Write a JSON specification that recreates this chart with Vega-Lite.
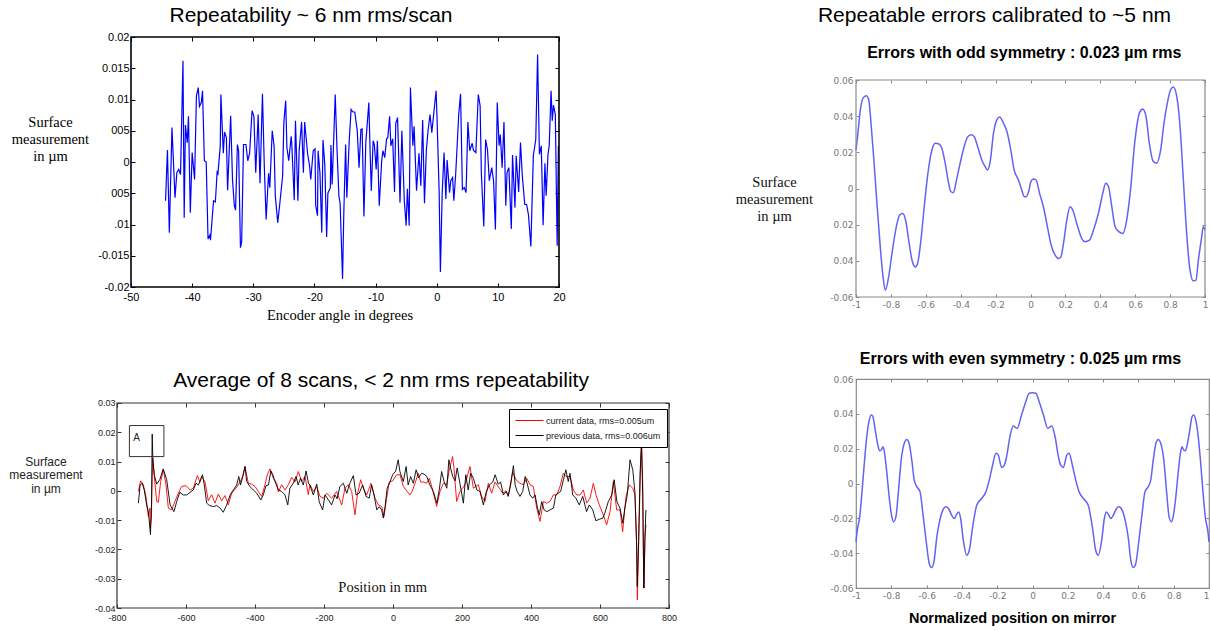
{
"$schema":"https://vega.github.io/schema/vega-lite/v6.json",
"padding":0,
"background":"white",
"autosize":{"type":"pad"},
"config":{
 "view":{"stroke":null},
 "font":"Liberation Sans",
 "axis":{"grid":false,"domain":false,"labelFlush":false,"labelOverlap":false,"labelBound":false},
 "title":{"font":"Liberation Sans","fontSize":21,"fontWeight":"normal","color":"#000","anchor":"middle","frame":"group"}
},
"datasets":{
"p1":[
{"angle":-44.35,"um":-0.0062},{"angle":-44.04,"um":0.0019},{"angle":-43.73,"um":-0.0113},{"angle":-43.3,"um":0.0055},{"angle":-42.8,"um":-0.0057},{"angle":-42.5,"um":-0.0017},{"angle":-42.2,"um":-0.0012},{"angle":-41.9,"um":-0.002},{"angle":-41.5,"um":0.0162},{"angle":-41.3,"um":-0.0089},{"angle":-41.1,"um":0.0059},{"angle":-40.8,"um":0.0031},{"angle":-40.6,"um":0.0073},{"angle":-40.3,"um":-0.0081},{"angle":-40.0,"um":0.0015},{"angle":-39.6,"um":-0.0028},{"angle":-39.3,"um":0.0106},{"angle":-39.0,"um":0.0119},{"angle":-38.8,"um":0.0089},{"angle":-38.5,"um":0.0095},{"angle":-38.3,"um":0.0114},{"angle":-38.0,"um":0.0002},{"angle":-37.7,"um":0},{"angle":-37.4,"um":-0.0123},{"angle":-37.1,"um":-0.0117},{"angle":-37.0,"um":-0.0125},{"angle":-36.5,"um":-0.0062},{"angle":-36.2,"um":-0.0064},{"angle":-35.9,"um":-0.0014},{"angle":-35.8,"um":-0.0021},{"angle":-35.4,"um":0.0026},{"angle":-35.3,"um":0.0108},{"angle":-34.9,"um":0.0014},{"angle":-34.7,"um":0.0048},{"angle":-34.4,"um":0.0039},{"angle":-34.2,"um":-0.0045},{"angle":-33.7,"um":0.0074},{"angle":-33.4,"um":-0.0028},{"angle":-33.1,"um":-0.007},{"angle":-32.9,"um":-0.0077},{"angle":-32.6,"um":0.0028},{"angle":-32.4,"um":0.0018},{"angle":-32.1,"um":-0.0137},{"angle":-31.9,"um":-0.0128},{"angle":-31.6,"um":0.0028},{"angle":-31.2,"um":0.0028},{"angle":-30.9,"um":0.0002},{"angle":-30.6,"um":0.0014},{"angle":-30.2,"um":0.0082},{"angle":-29.9,"um":0.0073},{"angle":-29.6,"um":-0.0017},{"angle":-29.2,"um":0.0076},{"angle":-28.9,"um":-0.0034},{"angle":-28.5,"um":0.0109},{"angle":-28.2,"um":-0.0006},{"angle":-27.9,"um":-0.0092},{"angle":-27.5,"um":-0.0018},{"angle":-27.3,"um":-0.0041},{"angle":-26.9,"um":0.005},{"angle":-26.6,"um":0.0026},{"angle":-26.4,"um":-0.0054},{"angle":-26.0,"um":-0.0097},{"angle":-25.7,"um":-0.007},{"angle":-25.2,"um":-0.0022},{"angle":-25.0,"um":0.0063},{"angle":-24.7,"um":0.0098},{"angle":-24.5,"um":0.0023},{"angle":-24.2,"um":0.0002},{"angle":-23.8,"um":0.0041},{"angle":-23.7,"um":0.0028},{"angle":-23.3,"um":-0.0061},{"angle":-23.1,"um":0.0066},{"angle":-22.7,"um":-0.0062},{"angle":-22.5,"um":0.0018},{"angle":-22.1,"um":0.0064},{"angle":-21.8,"um":-0.0017},{"angle":-21.6,"um":0.0064},{"angle":-21.1,"um":0.0012},{"angle":-20.8,"um":-0.0006},{"angle":-20.6,"um":-0.0028},{"angle":-20.2,"um":0.0018},{"angle":-19.9,"um":0.0021},{"angle":-19.8,"um":-0.0069},{"angle":-19.5,"um":-0.0086},{"angle":-19.4,"um":0.0018},{"angle":-19.1,"um":-0.0017},{"angle":-18.8,"um":-0.0113},{"angle":-18.6,"um":0.0035},{"angle":-18.3,"um":-0.0005},{"angle":-18.0,"um":-0.012},{"angle":-17.8,"um":-0.005},{"angle":-17.4,"um":-0.0041},{"angle":-17.3,"um":0.0027},{"angle":-17.1,"um":-0.0036},{"angle":-16.6,"um":0.0108},{"angle":-16.3,"um":0.0019},{"angle":-16.0,"um":-0.0054},{"angle":-15.8,"um":-0.0066},{"angle":-15.4,"um":-0.0187},{"angle":-15.2,"um":-0.0084},{"angle":-14.9,"um":0.0028},{"angle":-14.7,"um":-0.0057},{"angle":-14.3,"um":0.0036},{"angle":-14.0,"um":0.0084},{"angle":-13.7,"um":0.008},{"angle":-13.4,"um":0.008},{"angle":-13.0,"um":0.005},{"angle":-12.7,"um":-0.0009},{"angle":-12.4,"um":0.0052},{"angle":-12.2,"um":0.0053},{"angle":-11.9,"um":-0.0087},{"angle":-11.6,"um":0.0031},{"angle":-11.1,"um":0.0095},{"angle":-10.9,"um":0.0019},{"angle":-10.7,"um":-0.0046},{"angle":-10.4,"um":0.0034},{"angle":-10.2,"um":0.0028},{"angle":-9.9,"um":-0.0012},{"angle":-9.7,"um":0.0034},{"angle":-9.4,"um":-0.007},{"angle":-9.0,"um":0.0002},{"angle":-8.8,"um":0.0018},{"angle":-8.5,"um":0.0007},{"angle":-8.2,"um":0.0037},{"angle":-8.0,"um":0.0039},{"angle":-7.7,"um":0.0073},{"angle":-7.5,"um":0.0026},{"angle":-7.2,"um":0.0037},{"angle":-6.9,"um":-0.0048},{"angle":-6.7,"um":0.0062},{"angle":-6.4,"um":0.0071},{"angle":-6.0,"um":-0.0065},{"angle":-5.7,"um":0.005},{"angle":-5.3,"um":-0.0062},{"angle":-5.0,"um":-0.0102},{"angle":-4.8,"um":-0.0043},{"angle":-4.5,"um":-0.0102},{"angle":-4.3,"um":0.0119},{"angle":-3.9,"um":0.0026},{"angle":-3.7,"um":0.0057},{"angle":-3.3,"um":-0.0046},{"angle":-2.9,"um":0.0014},{"angle":-2.6,"um":-0.0038},{"angle":-2.3,"um":0.0067},{"angle":-2.0,"um":-0.0066},{"angle":-1.7,"um":0.0018},{"angle":-1.4,"um":0.0052},{"angle":-1.1,"um":0.0076},{"angle":-0.8,"um":0.0047},{"angle":-0.5,"um":0.0076},{"angle":-0.1,"um":0.0114},{"angle":0.05,"um":0.0071},{"angle":0.4,"um":-0.0049},{"angle":0.6,"um":-0.0176},{"angle":0.9,"um":-0.0049},{"angle":1.2,"um":0.0015},{"angle":1.5,"um":-0.0059},{"angle":1.7,"um":0.0003},{"angle":2.1,"um":-0.0049},{"angle":2.3,"um":-0.003},{"angle":2.6,"um":-0.0025},{"angle":2.8,"um":-0.0062},{"angle":3.1,"um":-0.002},{"angle":3.6,"um":0.0076},{"angle":3.9,"um":0.0109},{"angle":4.2,"um":-0.0044},{"angle":4.5,"um":-0.0041},{"angle":4.8,"um":-0.0049},{"angle":5.1,"um":0.0064},{"angle":5.4,"um":0.0018},{"angle":5.8,"um":0.003},{"angle":6.0,"um":0.0019},{"angle":6.4,"um":0.0015},{"angle":6.8,"um":0.0108},{"angle":7.1,"um":0.009},{"angle":7.3,"um":-0.0018},{"angle":7.7,"um":-0.0103},{"angle":8.0,"um":0.0036},{"angle":8.3,"um":0.002},{"angle":8.6,"um":-0.003},{"angle":9.0,"um":-0.0009},{"angle":9.3,"um":-0.003},{"angle":9.6,"um":-0.0108},{"angle":9.9,"um":0.0095},{"angle":10.2,"um":0.0026},{"angle":10.4,"um":0.0044},{"angle":10.7,"um":-0.0009},{"angle":11.0,"um":0.0064},{"angle":11.3,"um":-0.007},{"angle":11.5,"um":-0.0017},{"angle":11.8,"um":-0.0009},{"angle":12.2,"um":-0.0107},{"angle":12.4,"um":0.0011},{"angle":12.8,"um":-0.0073},{"angle":13.0,"um":0.001},{"angle":13.4,"um":-0.0048},{"angle":13.7,"um":0.0031},{"angle":14.0,"um":-0.0022},{"angle":14.4,"um":-0.0068},{"angle":14.7,"um":-0.0068},{"angle":15.0,"um":-0.0084},{"angle":15.4,"um":-0.0135},{"angle":15.8,"um":0.001},{"angle":16.2,"um":0.0036},{"angle":16.5,"um":0.0172},{"angle":16.8,"um":0.0012},{"angle":17.1,"um":0.0026},{"angle":17.4,"um":-0.0101},{"angle":17.7,"um":-0.0002},{"angle":17.9,"um":-0.0054},{"angle":18.2,"um":0.0012},{"angle":18.4,"um":0.0026},{"angle":18.7,"um":0.0114},{"angle":18.9,"um":0.0066},{"angle":19.1,"um":0.0091},{"angle":19.4,"um":0.0076},{"angle":19.7,"um":-0.0134},{"angle":19.9,"um":0.0026}
],
"p2":[
{"mm":-738.2,"um":-0.0002,"s":"cur"},{"mm":-731.4,"um":0.0034,"s":"cur"},{"mm":-723.7,"um":0.0021,"s":"cur"},{"mm":-716,"um":-0.0019,"s":"cur"},{"mm":-709.2,"um":-0.0087,"s":"cur"},{"mm":-704.4,"um":-0.0059,"s":"cur"},{"mm":-703.4,"um":-0.0127,"s":"cur"},{"mm":-700.5,"um":-0.0093,"s":"cur"},{"mm":-696.6,"um":0.0111,"s":"cur"},{"mm":-691.8,"um":0.0049,"s":"cur"},{"mm":-685,"um":-0.0036,"s":"cur"},{"mm":-680.2,"um":-0.0039,"s":"cur"},{"mm":-673.4,"um":0.0032,"s":"cur"},{"mm":-665.7,"um":0.0072,"s":"cur"},{"mm":-658,"um":0.0021,"s":"cur"},{"mm":-651.2,"um":-0.0059,"s":"cur"},{"mm":-641.6,"um":-0.0065,"s":"cur"},{"mm":-631.9,"um":-0.0036,"s":"cur"},{"mm":-622.2,"um":-0.0008,"s":"cur"},{"mm":-612.6,"um":0.0015,"s":"cur"},{"mm":-600,"um":0.0018,"s":"cur"},{"mm":-588.4,"um":0.0003,"s":"cur"},{"mm":-578.7,"um":0.0009,"s":"cur"},{"mm":-567.1,"um":0.0052,"s":"cur"},{"mm":-559.4,"um":0.003,"s":"cur"},{"mm":-554.6,"um":0.0049,"s":"cur"},{"mm":-544.9,"um":0.003,"s":"cur"},{"mm":-535.3,"um":-0.0034,"s":"cur"},{"mm":-525.6,"um":-0.0013,"s":"cur"},{"mm":-515.9,"um":-0.0042,"s":"cur"},{"mm":-506.3,"um":-0.0011,"s":"cur"},{"mm":-496.6,"um":-0.0034,"s":"cur"},{"mm":-487,"um":-0.0016,"s":"cur"},{"mm":-477.3,"um":-0.0048,"s":"cur"},{"mm":-467.6,"um":-0.0008,"s":"cur"},{"mm":-455.1,"um":0.0009,"s":"cur"},{"mm":-443.5,"um":0.003,"s":"cur"},{"mm":-435.8,"um":0.0049,"s":"cur"},{"mm":-429,"um":0.0083,"s":"cur"},{"mm":-419.3,"um":0.0026,"s":"cur"},{"mm":-409.7,"um":0.0023,"s":"cur"},{"mm":-400,"um":0.0015,"s":"cur"},{"mm":-390.3,"um":-0.0002,"s":"cur"},{"mm":-380.7,"um":-0.0019,"s":"cur"},{"mm":-371,"um":0.0021,"s":"cur"},{"mm":-364.3,"um":0.0055,"s":"cur"},{"mm":-356.5,"um":0.0075,"s":"cur"},{"mm":-346.9,"um":0.0043,"s":"cur"},{"mm":-337.2,"um":0.0026,"s":"cur"},{"mm":-332.4,"um":-0.0004,"s":"cur"},{"mm":-322.7,"um":0.0021,"s":"cur"},{"mm":-313,"um":0.0003,"s":"cur"},{"mm":-303.4,"um":0.0021,"s":"cur"},{"mm":-293.7,"um":0.0046,"s":"cur"},{"mm":-284.1,"um":0.003,"s":"cur"},{"mm":-274.4,"um":0.0066,"s":"cur"},{"mm":-264.7,"um":0.0032,"s":"cur"},{"mm":-255.1,"um":0.0049,"s":"cur"},{"mm":-245.4,"um":-0.0013,"s":"cur"},{"mm":-240.6,"um":0.0021,"s":"cur"},{"mm":-230.9,"um":-0.0002,"s":"cur"},{"mm":-221.3,"um":0.0015,"s":"cur"},{"mm":-211.6,"um":-0.0019,"s":"cur"},{"mm":-201.9,"um":-0.0025,"s":"cur"},{"mm":-192.3,"um":-0.0008,"s":"cur"},{"mm":-177.8,"um":-0.0025,"s":"cur"},{"mm":-163.3,"um":-0.0002,"s":"cur"},{"mm":-148.8,"um":-0.0048,"s":"cur"},{"mm":-139.1,"um":0.0009,"s":"cur"},{"mm":-129.5,"um":0.0021,"s":"cur"},{"mm":-119.8,"um":-0.0002,"s":"cur"},{"mm":-110.1,"um":-0.0082,"s":"cur"},{"mm":-103.4,"um":-0.0014,"s":"cur"},{"mm":-93.7,"um":0.0038,"s":"cur"},{"mm":-84.1,"um":0.0003,"s":"cur"},{"mm":-76.3,"um":-0.0014,"s":"cur"},{"mm":-63.8,"um":0.0026,"s":"cur"},{"mm":-52.2,"um":-0.0025,"s":"cur"},{"mm":-42.5,"um":-0.0048,"s":"cur"},{"mm":-32.8,"um":-0.0053,"s":"cur"},{"mm":-26.1,"um":-0.0087,"s":"cur"},{"mm":-18.4,"um":-0.0025,"s":"cur"},{"mm":-10.6,"um":0.003,"s":"cur"},{"mm":-1,"um":0.0034,"s":"cur"},{"mm":10.6,"um":0.0055,"s":"cur"},{"mm":20.3,"um":0.0055,"s":"cur"},{"mm":29.9,"um":0.0015,"s":"cur"},{"mm":37.7,"um":0.0003,"s":"cur"},{"mm":49.3,"um":-0.0014,"s":"cur"},{"mm":57,"um":0.0003,"s":"cur"},{"mm":63.8,"um":0.0026,"s":"cur"},{"mm":73.4,"um":0.006,"s":"cur"},{"mm":80.2,"um":0.003,"s":"cur"},{"mm":87.9,"um":0.003,"s":"cur"},{"mm":97.6,"um":0.0026,"s":"cur"},{"mm":105.3,"um":0.0043,"s":"cur"},{"mm":112.1,"um":0.0015,"s":"cur"},{"mm":126.6,"um":-0.0053,"s":"cur"},{"mm":136.2,"um":-0.0002,"s":"cur"},{"mm":145.9,"um":0.0026,"s":"cur"},{"mm":155.6,"um":0.0021,"s":"cur"},{"mm":163.3,"um":0.0072,"s":"cur"},{"mm":172.9,"um":0.0117,"s":"cur"},{"mm":176.8,"um":0.0077,"s":"cur"},{"mm":184.5,"um":-0.0036,"s":"cur"},{"mm":194.2,"um":-0.0002,"s":"cur"},{"mm":208.7,"um":0.0021,"s":"cur"},{"mm":223.2,"um":0.0083,"s":"cur"},{"mm":232.9,"um":0.0009,"s":"cur"},{"mm":247.3,"um":0.0021,"s":"cur"},{"mm":257,"um":-0.0019,"s":"cur"},{"mm":266.7,"um":-0.0036,"s":"cur"},{"mm":276.3,"um":0.0026,"s":"cur"},{"mm":286,"um":-0.0008,"s":"cur"},{"mm":295.7,"um":0.003,"s":"cur"},{"mm":308.2,"um":0.0009,"s":"cur"},{"mm":317.9,"um":-0.0008,"s":"cur"},{"mm":327.6,"um":0,"s":"cur"},{"mm":334.3,"um":-0.0014,"s":"cur"},{"mm":346.9,"um":0.0064,"s":"cur"},{"mm":356.5,"um":0.0038,"s":"cur"},{"mm":368.1,"um":0.0026,"s":"cur"},{"mm":377.8,"um":0.0021,"s":"cur"},{"mm":387.5,"um":0.0043,"s":"cur"},{"mm":397.1,"um":0.0021,"s":"cur"},{"mm":406.8,"um":0.0015,"s":"cur"},{"mm":416.5,"um":-0.0059,"s":"cur"},{"mm":426.1,"um":-0.0104,"s":"cur"},{"mm":435.8,"um":-0.0036,"s":"cur"},{"mm":445.4,"um":-0.0042,"s":"cur"},{"mm":455.1,"um":-0.0036,"s":"cur"},{"mm":464.8,"um":-0.0014,"s":"cur"},{"mm":474.4,"um":-0.0014,"s":"cur"},{"mm":484.1,"um":0.0015,"s":"cur"},{"mm":493.7,"um":0.006,"s":"cur"},{"mm":501.5,"um":0.0049,"s":"cur"},{"mm":513.1,"um":0.0049,"s":"cur"},{"mm":522.7,"um":0.0003,"s":"cur"},{"mm":532.4,"um":-0.0014,"s":"cur"},{"mm":542,"um":-0.0014,"s":"cur"},{"mm":551.7,"um":0.0003,"s":"cur"},{"mm":561.4,"um":-0.0042,"s":"cur"},{"mm":571,"um":-0.0025,"s":"cur"},{"mm":580.7,"um":0.0026,"s":"cur"},{"mm":588.4,"um":-0.0014,"s":"cur"},{"mm":598.1,"um":-0.0048,"s":"cur"},{"mm":609.7,"um":-0.0082,"s":"cur"},{"mm":619.3,"um":-0.0116,"s":"cur"},{"mm":629,"um":-0.0071,"s":"cur"},{"mm":638.7,"um":0.0032,"s":"cur"},{"mm":648.3,"um":-0.0065,"s":"cur"},{"mm":658,"um":-0.0065,"s":"cur"},{"mm":665.7,"um":-0.0139,"s":"cur"},{"mm":675.4,"um":-0.0019,"s":"cur"},{"mm":685,"um":0.0021,"s":"cur"},{"mm":694.7,"um":0.0009,"s":"cur"},{"mm":701.5,"um":-0.0014,"s":"cur"},{"mm":706.3,"um":-0.0196,"s":"cur"},{"mm":708.2,"um":-0.0372,"s":"cur"},{"mm":712.1,"um":-0.0173,"s":"cur"},{"mm":717.9,"um":0.01,"s":"cur"},{"mm":720.8,"um":0.0169,"s":"cur"},{"mm":723.7,"um":0.0032,"s":"cur"},{"mm":725.6,"um":-0.0207,"s":"cur"},{"mm":727.6,"um":-0.0332,"s":"cur"},{"mm":730.5,"um":-0.015,"s":"cur"},{"mm":733.4,"um":-0.0116,"s":"cur"},
{"mm":-738,"um":-0.0042,"s":"prev"},{"mm":-733,"um":0.002,"s":"prev"},{"mm":-727,"um":0.0026,"s":"prev"},{"mm":-721,"um":0.0003,"s":"prev"},{"mm":-714,"um":-0.0048,"s":"prev"},{"mm":-709,"um":-0.0071,"s":"prev"},{"mm":-706,"um":-0.011,"s":"prev"},{"mm":-703,"um":-0.015,"s":"prev"},{"mm":-700,"um":-0.0048,"s":"prev"},{"mm":-698,"um":0.0194,"s":"prev"},{"mm":-696,"um":0.0106,"s":"prev"},{"mm":-692,"um":0.0055,"s":"prev"},{"mm":-685,"um":0.0023,"s":"prev"},{"mm":-676,"um":0.0038,"s":"prev"},{"mm":-666,"um":0.0075,"s":"prev"},{"mm":-656,"um":0.0038,"s":"prev"},{"mm":-646,"um":-0.0048,"s":"prev"},{"mm":-635,"um":-0.0071,"s":"prev"},{"mm":-627,"um":-0.0037,"s":"prev"},{"mm":-618,"um":-0.0005,"s":"prev"},{"mm":-608,"um":-0.0014,"s":"prev"},{"mm":-598,"um":-0.0014,"s":"prev"},{"mm":-588,"um":-0.0005,"s":"prev"},{"mm":-579,"um":0.0003,"s":"prev"},{"mm":-571,"um":0.0026,"s":"prev"},{"mm":-564,"um":0.002,"s":"prev"},{"mm":-558,"um":0.0038,"s":"prev"},{"mm":-552,"um":0.0055,"s":"prev"},{"mm":-547,"um":0.002,"s":"prev"},{"mm":-540,"um":-0.0042,"s":"prev"},{"mm":-532,"um":-0.005,"s":"prev"},{"mm":-521,"um":-0.0054,"s":"prev"},{"mm":-511,"um":-0.005,"s":"prev"},{"mm":-501,"um":-0.0059,"s":"prev"},{"mm":-492,"um":-0.0073,"s":"prev"},{"mm":-482,"um":-0.0048,"s":"prev"},{"mm":-472,"um":-0.0014,"s":"prev"},{"mm":-463,"um":0.0003,"s":"prev"},{"mm":-453,"um":0.002,"s":"prev"},{"mm":-447,"um":0.0049,"s":"prev"},{"mm":-442,"um":0.002,"s":"prev"},{"mm":-434,"um":0.0055,"s":"prev"},{"mm":-429,"um":0.0083,"s":"prev"},{"mm":-424,"um":0.0032,"s":"prev"},{"mm":-415,"um":0.0015,"s":"prev"},{"mm":-405,"um":0.0003,"s":"prev"},{"mm":-395,"um":-0.0008,"s":"prev"},{"mm":-383,"um":-0.0031,"s":"prev"},{"mm":-376,"um":-0.0014,"s":"prev"},{"mm":-368,"um":0.0018,"s":"prev"},{"mm":-361,"um":0.002,"s":"prev"},{"mm":-354,"um":0.0068,"s":"prev"},{"mm":-349,"um":0.0057,"s":"prev"},{"mm":-342,"um":0.0032,"s":"prev"},{"mm":-332,"um":0.0003,"s":"prev"},{"mm":-323,"um":-0.0002,"s":"prev"},{"mm":-313,"um":-0.0014,"s":"prev"},{"mm":-305,"um":-0.0048,"s":"prev"},{"mm":-299,"um":0.0009,"s":"prev"},{"mm":-289,"um":0.0026,"s":"prev"},{"mm":-281,"um":0.0049,"s":"prev"},{"mm":-275,"um":0.002,"s":"prev"},{"mm":-268,"um":0.0043,"s":"prev"},{"mm":-260,"um":0.002,"s":"prev"},{"mm":-252,"um":0.0068,"s":"prev"},{"mm":-245,"um":0.0026,"s":"prev"},{"mm":-241,"um":0.002,"s":"prev"},{"mm":-231,"um":-0.0014,"s":"prev"},{"mm":-221,"um":0.0023,"s":"prev"},{"mm":-214,"um":-0.0037,"s":"prev"},{"mm":-204,"um":-0.0065,"s":"prev"},{"mm":-197,"um":-0.0014,"s":"prev"},{"mm":-187,"um":-0.0031,"s":"prev"},{"mm":-178,"um":-0.0048,"s":"prev"},{"mm":-168,"um":-0.0014,"s":"prev"},{"mm":-162,"um":-0.0027,"s":"prev"},{"mm":-154,"um":0.0015,"s":"prev"},{"mm":-144,"um":0.0026,"s":"prev"},{"mm":-134,"um":-0.0008,"s":"prev"},{"mm":-125,"um":0.0026,"s":"prev"},{"mm":-115,"um":0.0052,"s":"prev"},{"mm":-107,"um":-0.0014,"s":"prev"},{"mm":-98,"um":-0.0008,"s":"prev"},{"mm":-88,"um":0.002,"s":"prev"},{"mm":-78,"um":-0.0019,"s":"prev"},{"mm":-69,"um":-0.0025,"s":"prev"},{"mm":-62,"um":0.002,"s":"prev"},{"mm":-55,"um":-0.0014,"s":"prev"},{"mm":-47,"um":-0.0065,"s":"prev"},{"mm":-40,"um":-0.0054,"s":"prev"},{"mm":-33,"um":-0.0065,"s":"prev"},{"mm":-28,"um":-0.0093,"s":"prev"},{"mm":-23,"um":-0.0054,"s":"prev"},{"mm":-17,"um":0.0009,"s":"prev"},{"mm":-9,"um":0.003,"s":"prev"},{"mm":-1,"um":0.0055,"s":"prev"},{"mm":8,"um":0.0068,"s":"prev"},{"mm":15,"um":0.0106,"s":"prev"},{"mm":20,"um":0.0066,"s":"prev"},{"mm":30,"um":0.0032,"s":"prev"},{"mm":38,"um":0.0083,"s":"prev"},{"mm":44,"um":0.002,"s":"prev"},{"mm":51,"um":0.0049,"s":"prev"},{"mm":59,"um":0.0026,"s":"prev"},{"mm":67,"um":0.0072,"s":"prev"},{"mm":74,"um":0.0045,"s":"prev"},{"mm":83,"um":0.006,"s":"prev"},{"mm":90,"um":0.0057,"s":"prev"},{"mm":98,"um":0.0049,"s":"prev"},{"mm":107,"um":0.002,"s":"prev"},{"mm":117,"um":-0.0002,"s":"prev"},{"mm":127,"um":-0.0042,"s":"prev"},{"mm":134,"um":0.0003,"s":"prev"},{"mm":141,"um":0.0066,"s":"prev"},{"mm":148,"um":0.0032,"s":"prev"},{"mm":156,"um":0.0009,"s":"prev"},{"mm":162,"um":0.0106,"s":"prev"},{"mm":167,"um":0.0078,"s":"prev"},{"mm":173,"um":0.0049,"s":"prev"},{"mm":180,"um":0.0034,"s":"prev"},{"mm":186,"um":0.0078,"s":"prev"},{"mm":194,"um":0.0026,"s":"prev"},{"mm":204,"um":-0.0042,"s":"prev"},{"mm":211,"um":0.0055,"s":"prev"},{"mm":218,"um":0.0003,"s":"prev"},{"mm":225,"um":0.006,"s":"prev"},{"mm":233,"um":0.0043,"s":"prev"},{"mm":243,"um":0.0003,"s":"prev"},{"mm":252,"um":-0.0002,"s":"prev"},{"mm":262,"um":-0.0048,"s":"prev"},{"mm":269,"um":-0.0008,"s":"prev"},{"mm":279,"um":0.002,"s":"prev"},{"mm":289,"um":0.003,"s":"prev"},{"mm":296,"um":0.0055,"s":"prev"},{"mm":305,"um":0.0023,"s":"prev"},{"mm":312,"um":0.003,"s":"prev"},{"mm":320,"um":-0.0014,"s":"prev"},{"mm":328,"um":-0.0002,"s":"prev"},{"mm":334,"um":-0.0019,"s":"prev"},{"mm":341,"um":0.002,"s":"prev"},{"mm":349,"um":0.0086,"s":"prev"},{"mm":354,"um":0.002,"s":"prev"},{"mm":360,"um":-0.0002,"s":"prev"},{"mm":368,"um":-0.0019,"s":"prev"},{"mm":376,"um":-0.0002,"s":"prev"},{"mm":383,"um":0.0049,"s":"prev"},{"mm":390,"um":0.002,"s":"prev"},{"mm":397,"um":-0.0014,"s":"prev"},{"mm":405,"um":-0.0025,"s":"prev"},{"mm":412,"um":-0.0014,"s":"prev"},{"mm":417,"um":-0.0048,"s":"prev"},{"mm":424,"um":-0.0082,"s":"prev"},{"mm":431,"um":-0.0037,"s":"prev"},{"mm":438,"um":-0.0065,"s":"prev"},{"mm":446,"um":-0.0071,"s":"prev"},{"mm":455,"um":-0.0065,"s":"prev"},{"mm":465,"um":-0.0059,"s":"prev"},{"mm":472,"um":-0.0014,"s":"prev"},{"mm":479,"um":-0.0008,"s":"prev"},{"mm":486,"um":-0.0002,"s":"prev"},{"mm":494,"um":0.0038,"s":"prev"},{"mm":501,"um":0.0072,"s":"prev"},{"mm":508,"um":0.0032,"s":"prev"},{"mm":513,"um":0.006,"s":"prev"},{"mm":521,"um":-0.0014,"s":"prev"},{"mm":530,"um":-0.0025,"s":"prev"},{"mm":540,"um":-0.0048,"s":"prev"},{"mm":550,"um":-0.0019,"s":"prev"},{"mm":561,"um":-0.0071,"s":"prev"},{"mm":569,"um":-0.0048,"s":"prev"},{"mm":579,"um":-0.0065,"s":"prev"},{"mm":588,"um":-0.0102,"s":"prev"},{"mm":598,"um":-0.0097,"s":"prev"},{"mm":608,"um":-0.0093,"s":"prev"},{"mm":614,"um":-0.0076,"s":"prev"},{"mm":624,"um":-0.0037,"s":"prev"},{"mm":634,"um":-0.0014,"s":"prev"},{"mm":641,"um":0.0038,"s":"prev"},{"mm":649,"um":-0.0037,"s":"prev"},{"mm":658,"um":-0.0059,"s":"prev"},{"mm":666,"um":-0.011,"s":"prev"},{"mm":672,"um":-0.0059,"s":"prev"},{"mm":679,"um":-0.0014,"s":"prev"},{"mm":687,"um":0.0106,"s":"prev"},{"mm":695,"um":0.0072,"s":"prev"},{"mm":701,"um":-0.0002,"s":"prev"},{"mm":706,"um":-0.0173,"s":"prev"},{"mm":708,"um":-0.0327,"s":"prev"},{"mm":712,"um":-0.0173,"s":"prev"},{"mm":716,"um":0.0055,"s":"prev"},{"mm":720,"um":0.0157,"s":"prev"},{"mm":724,"um":-0.0014,"s":"prev"},{"mm":727,"um":-0.0332,"s":"prev"},{"mm":730,"um":-0.0173,"s":"prev"},{"mm":733,"um":-0.0065,"s":"prev"}
],
"notes":[{"label":"A","mm":-743,"um":0.018},{"label":"Position in mm","mm":-30,"um":-0.033}],
"box":[{"mm":-764,"mm2":-664,"um":0.0223,"um2":0.0117}],
"frame2":[{"mm":-800,"mm2":800,"um":-0.04,"um2":0.03}],
"frame1":[{"angle":-50,"angle2":20,"um":-0.02,"um2":0.02}],
"frame3":[{"pos":-1,"pos2":1,"um":-0.06,"um2":0.06}],
"head3":[{"label":"Errors with odd symmetry : 0.023 µm rms","pos":-0.0355,"um":0.0748}],
"p3":[
{"pos":-1,"um":0.0213},{"pos":-0.99,"um":0.0297},{"pos":-0.975,"um":0.0435},{"pos":-0.96,"um":0.05},{"pos":-0.941,"um":0.0513},{"pos":-0.927,"um":0.0491},{"pos":-0.914,"um":0.0361},{"pos":-0.899,"um":0.0177},{"pos":-0.88,"um":-0.0082},{"pos":-0.861,"um":-0.0323},{"pos":-0.845,"um":-0.0489},{"pos":-0.832,"um":-0.0563},{"pos":-0.813,"um":-0.0489},{"pos":-0.794,"um":-0.036},{"pos":-0.769,"um":-0.0212},{"pos":-0.75,"um":-0.0147},{"pos":-0.731,"um":-0.0138},{"pos":-0.714,"um":-0.0184},{"pos":-0.698,"um":-0.0286},{"pos":-0.679,"um":-0.0397},{"pos":-0.66,"um":-0.0434},{"pos":-0.647,"um":-0.0415},{"pos":-0.628,"um":-0.0286},{"pos":-0.609,"um":-0.0101},{"pos":-0.588,"um":0.0084},{"pos":-0.565,"um":0.0213},{"pos":-0.546,"um":0.025},{"pos":-0.527,"um":0.0247},{"pos":-0.508,"um":0.0223},{"pos":-0.489,"um":0.014},{"pos":-0.469,"um":0.0029},{"pos":-0.456,"um":-0.0018},{"pos":-0.441,"um":-0.0023},{"pos":-0.426,"um":0.0038},{"pos":-0.403,"um":0.014},{"pos":-0.38,"um":0.0232},{"pos":-0.361,"um":0.0284},{"pos":-0.34,"um":0.0297},{"pos":-0.323,"um":0.0288},{"pos":-0.303,"um":0.0232},{"pos":-0.279,"um":0.0158},{"pos":-0.26,"um":0.0121},{"pos":-0.246,"um":0.0103},{"pos":-0.231,"um":0.0149},{"pos":-0.212,"um":0.0306},{"pos":-0.193,"um":0.038},{"pos":-0.177,"um":0.0395},{"pos":-0.155,"um":0.0361},{"pos":-0.135,"um":0.0315},{"pos":-0.113,"um":0.0213},{"pos":-0.094,"um":0.0103},{"pos":-0.069,"um":0.0047},{"pos":-0.05,"um":-0.0008},{"pos":-0.036,"um":-0.0045},{"pos":-0.025,"um":-0.0045},{"pos":-0.011,"um":-0.0018},{"pos":0.002,"um":0.0038},{"pos":0.017,"um":0.0053},{"pos":0.032,"um":0.0047},{"pos":0.052,"um":-0.0027},{"pos":0.074,"um":-0.0101},{"pos":0.097,"um":-0.0212},{"pos":0.116,"um":-0.0304},{"pos":0.141,"um":-0.0369},{"pos":0.16,"um":-0.0387},{"pos":0.174,"um":-0.0378},{"pos":0.189,"um":-0.0304},{"pos":0.208,"um":-0.0175},{"pos":0.227,"um":-0.0101},{"pos":0.242,"um":-0.0119},{"pos":0.265,"um":-0.0193},{"pos":0.294,"um":-0.0277},{"pos":0.313,"um":-0.0295},{"pos":0.338,"um":-0.0286},{"pos":0.361,"um":-0.023},{"pos":0.389,"um":-0.0138},{"pos":0.414,"um":-0.0027},{"pos":0.431,"um":0.0029},{"pos":0.447,"um":0.001},{"pos":0.466,"um":-0.0101},{"pos":0.485,"um":-0.0212},{"pos":0.508,"um":-0.024},{"pos":0.529,"um":-0.0249},{"pos":0.548,"um":-0.0193},{"pos":0.571,"um":-0.0027},{"pos":0.599,"um":0.0269},{"pos":0.624,"um":0.0417},{"pos":0.643,"um":0.0439},{"pos":0.662,"um":0.0398},{"pos":0.681,"um":0.025},{"pos":0.704,"um":0.0149},{"pos":0.723,"um":0.014},{"pos":0.746,"um":0.0213},{"pos":0.765,"um":0.0361},{"pos":0.784,"um":0.0472},{"pos":0.803,"um":0.0546},{"pos":0.819,"um":0.0561},{"pos":0.838,"um":0.0509},{"pos":0.857,"um":0.0343},{"pos":0.876,"um":0.0047},{"pos":0.895,"um":-0.0249},{"pos":0.914,"um":-0.0452},{"pos":0.933,"um":-0.0511},{"pos":0.948,"um":-0.0507},{"pos":0.962,"um":-0.0397},{"pos":0.981,"um":-0.0267},{"pos":0.99,"um":-0.0212},{"pos":1,"um":-0.023}
],
"p4":[
{"pos":-1,"um":-0.0335},{"pos":-0.994,"um":-0.0278},{"pos":-0.979,"um":-0.0192},{"pos":-0.966,"um":-0.0048},{"pos":-0.953,"um":0.0115},{"pos":-0.938,"um":0.0278},{"pos":-0.925,"um":0.0364},{"pos":-0.913,"um":0.0393},{"pos":-0.904,"um":0.0383},{"pos":-0.891,"um":0.0307},{"pos":-0.878,"um":0.023},{"pos":-0.866,"um":0.0188},{"pos":-0.857,"um":0.0192},{"pos":-0.847,"um":0.0211},{"pos":-0.838,"um":0.0173},{"pos":-0.825,"um":0.0058},{"pos":-0.81,"um":-0.0096},{"pos":-0.797,"um":-0.0192},{"pos":-0.787,"um":-0.022},{"pos":-0.774,"um":-0.0192},{"pos":-0.759,"um":-0.0038},{"pos":-0.744,"um":0.0134},{"pos":-0.727,"um":0.023},{"pos":-0.712,"um":0.0253},{"pos":-0.699,"um":0.023},{"pos":-0.684,"um":0.0134},{"pos":-0.67,"um":0.0019},{"pos":-0.655,"um":-0.0019},{"pos":-0.637,"um":-0.0048},{"pos":-0.621,"um":-0.0173},{"pos":-0.603,"um":-0.0326},{"pos":-0.584,"um":-0.0464},{"pos":-0.571,"um":-0.0483},{"pos":-0.557,"um":-0.0441},{"pos":-0.542,"um":-0.0307},{"pos":-0.527,"um":-0.022},{"pos":-0.508,"um":-0.0153},{"pos":-0.49,"um":-0.0134},{"pos":-0.476,"um":-0.0144},{"pos":-0.458,"um":-0.0182},{"pos":-0.444,"um":-0.0201},{"pos":-0.429,"um":-0.0176},{"pos":-0.418,"um":-0.0163},{"pos":-0.407,"um":-0.0201},{"pos":-0.392,"um":-0.0326},{"pos":-0.373,"um":-0.0412},{"pos":-0.358,"um":-0.0383},{"pos":-0.339,"um":-0.0249},{"pos":-0.316,"um":-0.0125},{"pos":-0.288,"um":-0.0086},{"pos":-0.264,"um":-0.0048},{"pos":-0.245,"um":0.0019},{"pos":-0.226,"um":0.0105},{"pos":-0.207,"um":0.0173},{"pos":-0.194,"um":0.0163},{"pos":-0.175,"um":0.0092},{"pos":-0.16,"um":0.0105},{"pos":-0.147,"um":0.0153},{"pos":-0.128,"um":0.0268},{"pos":-0.109,"um":0.033},{"pos":-0.087,"um":0.0316},{"pos":-0.062,"um":0.0393},{"pos":-0.038,"um":0.047},{"pos":-0.019,"um":0.0518},{"pos":0,"um":0.0521},
{"pos":0.019,"um":0.0518},{"pos":0.038,"um":0.047},{"pos":0.062,"um":0.0393},{"pos":0.087,"um":0.0316},{"pos":0.109,"um":0.033},{"pos":0.128,"um":0.0268},{"pos":0.147,"um":0.0153},{"pos":0.16,"um":0.0105},{"pos":0.175,"um":0.0092},{"pos":0.194,"um":0.0163},{"pos":0.207,"um":0.0173},{"pos":0.226,"um":0.0105},{"pos":0.245,"um":0.0019},{"pos":0.264,"um":-0.0048},{"pos":0.288,"um":-0.0086},{"pos":0.316,"um":-0.0125},{"pos":0.339,"um":-0.0249},{"pos":0.358,"um":-0.0383},{"pos":0.373,"um":-0.0412},{"pos":0.392,"um":-0.0326},{"pos":0.407,"um":-0.0201},{"pos":0.418,"um":-0.0163},{"pos":0.429,"um":-0.0176},{"pos":0.444,"um":-0.0201},{"pos":0.458,"um":-0.0182},{"pos":0.476,"um":-0.0144},{"pos":0.49,"um":-0.0134},{"pos":0.508,"um":-0.0153},{"pos":0.527,"um":-0.022},{"pos":0.542,"um":-0.0307},{"pos":0.557,"um":-0.0441},{"pos":0.571,"um":-0.0483},{"pos":0.584,"um":-0.0464},{"pos":0.603,"um":-0.0326},{"pos":0.621,"um":-0.0173},{"pos":0.637,"um":-0.0048},{"pos":0.655,"um":-0.0019},{"pos":0.67,"um":0.0019},{"pos":0.684,"um":0.0134},{"pos":0.699,"um":0.023},{"pos":0.712,"um":0.0253},{"pos":0.727,"um":0.023},{"pos":0.744,"um":0.0134},{"pos":0.759,"um":-0.0038},{"pos":0.774,"um":-0.0192},{"pos":0.787,"um":-0.022},{"pos":0.797,"um":-0.0192},{"pos":0.81,"um":-0.0096},{"pos":0.825,"um":0.0058},{"pos":0.838,"um":0.0173},{"pos":0.847,"um":0.0211},{"pos":0.857,"um":0.0192},{"pos":0.866,"um":0.0188},{"pos":0.878,"um":0.023},{"pos":0.891,"um":0.0307},{"pos":0.904,"um":0.0383},{"pos":0.913,"um":0.0393},{"pos":0.925,"um":0.0364},{"pos":0.938,"um":0.0278},{"pos":0.953,"um":0.0115},{"pos":0.966,"um":-0.0048},{"pos":0.979,"um":-0.0192},{"pos":0.994,"um":-0.0278},{"pos":1,"um":-0.0335}
]
},
"columns":4,
"spacing":0,
"align":"none",
"bounds":"flush",
"concat":[
 {"width":117,"height":37,"data":{"values":[{}]},"mark":{"type":"point","opacity":0,"size":0},"encoding":{}},
 {"width":1,"height":1,"data":{"values":[{}]},"mark":{"type":"point","opacity":0,"size":0},"encoding":{}},
 {"width":1,"height":1,"data":{"values":[{}]},"mark":{"type":"point","opacity":0,"size":0},"encoding":{}},
 {"width":1,"height":1,"data":{"values":[{}]},"mark":{"type":"point","opacity":0,"size":0},"encoding":{}},

 {"width":1,"height":1,"data":{"values":[{}]},"mark":{"type":"point","opacity":0,"size":0},"encoding":{}},
 {"width":442,"height":250,
  "title":{"text":"Repeatability ~ 6 nm rms/scan","dx":-27,"offset":5},
  "resolve":{"axis":{"x":"independent","y":"independent"}},
  "layer":[
   {"data":{"name":"p1"},
    "mark":{"type":"line","color":"#0000ff","strokeWidth":1.2},
    "encoding":{
     "x":{"field":"angle","type":"quantitative","scale":{"domain":[-52.2897,20],"nice":false,"zero":false},
      "axis":{"orient":"bottom","values":[-50,-40,-30,-20,-10,0,10,20],"labelExpr":"''+datum.value","tickSize":-4,"tickColor":"#000","tickWidth":1,"labelFont":"Liberation Sans","labelFontSize":11,"labelColor":"#000","labelPadding":8,
       "title":"Encoder angle in degrees","titleFont":"Liberation Serif","titleFontSize":14.5,"titleFontWeight":"normal","titleColor":"#000","titleX":222.5,"titleY":28,"titleAlign":"center","titleBaseline":"middle"}},
     "y":{"field":"um","type":"quantitative","scale":{"domain":[-0.02,0.02],"nice":false,"zero":false},
      "axis":{"orient":"left","offset":-14,"values":[-0.02,-0.015,-0.01,-0.005,0,0.005,0.01,0.015,0.02],"labelExpr":"(datum.value==0.005||datum.value==-0.005)?'005':(datum.value==-0.01?'.01':''+datum.value)","tickSize":-4,"tickColor":"#000","tickWidth":1,"labelFont":"Liberation Sans","labelFontSize":11,"labelColor":"#000","labelPadding":6,
       "title":["Surface","measurement","in µm"],"titleFont":"Liberation Serif","titleFontSize":14.5,"titleFontWeight":"normal","titleColor":"#000","titleAngle":0,"titleX":-81,"titleY":85,"titleAlign":"center","titleBaseline":"middle","titleLineHeight":17}}
    }},
   {"data":{"name":"p1"},
    "mark":{"type":"line","opacity":0},
    "encoding":{
     "x":{"field":"angle","type":"quantitative","scale":{"domain":[-52.2897,20],"nice":false,"zero":false},
      "axis":{"orient":"top","values":[-50,-40,-30,-20,-10,0,10,20],"labels":false,"title":null,"tickSize":-4,"tickColor":"#000"}},
     "y":{"field":"um","type":"quantitative","scale":{"domain":[-0.02,0.02],"nice":false,"zero":false},
      "axis":{"orient":"right","values":[-0.02,-0.015,-0.01,-0.005,0,0.005,0.01,0.015,0.02],"labels":false,"title":null,"tickSize":-4,"tickColor":"#000"}}
    }},
   {"data":{"name":"frame1"},
    "mark":{"type":"rect","fill":"transparent","stroke":"#000","strokeWidth":1.6},
    "encoding":{
     "x":{"field":"angle","type":"quantitative","scale":{"domain":[-52.2897,20],"nice":false,"zero":false},"axis":null},
     "x2":{"field":"angle2"},
     "y":{"field":"um","type":"quantitative","scale":{"domain":[-0.02,0.02],"nice":false,"zero":false},"axis":null},
     "y2":{"field":"um2"}
    }}
  ]},
 {"width":187,"height":1,"data":{"values":[{}]},"mark":{"type":"point","opacity":0,"size":0},"encoding":{}},
 {"width":349,"height":260,
  "title":{"text":"Repeatable errors calibrated to ~5 nm","dx":-36,"offset":11},
  "resolve":{"axis":{"x":"independent","y":"independent"}},
  "layer":[
   {"data":{"name":"p3"},
    "mark":{"type":"line","color":"#6262f8","strokeWidth":1.5,"interpolate":"monotone"},
    "encoding":{
     "x":{"field":"pos","type":"quantitative","scale":{"domain":[-1,1],"nice":false,"zero":false},
      "axis":{"orient":"bottom","values":[-1,-0.8,-0.6,-0.4,-0.2,0,0.2,0.4,0.6,0.8,1],"labelExpr":"''+datum.value","tickSize":-3,"tickColor":"#888","labelFont":"DejaVu Sans","labelFontSize":9,"labelColor":"#777","labelPadding":6,"title":null}},
     "y":{"field":"um","type":"quantitative","scale":{"domain":[-0.06,0.083779],"nice":false,"zero":false},
      "axis":{"orient":"left","values":[-0.06,-0.04,-0.02,0,0.02,0.04,0.06],"labelExpr":"(datum.value<0&&datum.value>-0.05)?''+(-datum.value):''+datum.value","tickSize":-3,"tickColor":"#888","labelFont":"DejaVu Sans","labelFontSize":9,"labelColor":"#777","labelPadding":6,
       "title":["Surface","measurement","in µm"],"titleFont":"Liberation Serif","titleFontSize":14.5,"titleFontWeight":"normal","titleColor":"#111","titleAngle":0,"titleX":-82,"titleY":145,"titleAlign":"center","titleBaseline":"middle","titleLineHeight":17}}
    }},
   {"data":{"name":"p3"},
    "mark":{"type":"line","opacity":0},
    "encoding":{
     "x":{"field":"pos","type":"quantitative","scale":{"domain":[-1,1],"nice":false,"zero":false},
      "axis":{"orient":"top","offset":-43,"values":[-1,-0.8,-0.6,-0.4,-0.2,0,0.2,0.4,0.6,0.8,1],"labels":false,"title":null,"tickSize":-3,"tickColor":"#888"}},
     "y":{"field":"um","type":"quantitative","scale":{"domain":[-0.06,0.083779],"nice":false,"zero":false},
      "axis":{"orient":"right","values":[-0.06,-0.04,-0.02,0,0.02,0.04,0.06],"labels":false,"title":null,"tickSize":-3,"tickColor":"#888"}}
    }},
   {"data":{"name":"frame3"},
    "mark":{"type":"rect","fill":"transparent","stroke":"#8a8a8a","strokeWidth":1.2},
    "encoding":{
     "x":{"field":"pos","type":"quantitative","scale":{"domain":[-1,1],"nice":false,"zero":false},"axis":null},
     "x2":{"field":"pos2"},
     "y":{"field":"um","type":"quantitative","scale":{"domain":[-0.06,0.083779],"nice":false,"zero":false},"axis":null},
     "y2":{"field":"um2"}
    }},
   {"data":{"name":"head3"},
    "mark":{"type":"text","font":"Liberation Sans","fontSize":16,"fontWeight":"bold","color":"#000","align":"center","baseline":"middle"},
    "encoding":{
     "x":{"field":"pos","type":"quantitative","scale":{"domain":[-1,1],"nice":false,"zero":false},"axis":null},
     "y":{"field":"um","type":"quantitative","scale":{"domain":[-0.06,0.083779],"nice":false,"zero":false},"axis":null},
     "text":{"field":"label"}
    }}
  ]},

 {"width":1,"height":1,"data":{"values":[{}]},"mark":{"type":"point","opacity":0,"size":0},"encoding":{}},
 {"width":1,"height":1,"data":{"values":[{}]},"mark":{"type":"point","opacity":0,"size":0},"encoding":{}},
 {"width":1,"height":1,"data":{"values":[{}]},"mark":{"type":"point","opacity":0,"size":0},"encoding":{}},
 {"width":1,"height":82,"data":{"values":[{}]},"mark":{"type":"point","opacity":0,"size":0},"encoding":{}},

 {"width":1,"height":1,"data":{"values":[{}]},"mark":{"type":"point","opacity":0,"size":0},"encoding":{}},
 {"width":552,"height":229,
  "title":{"text":"Average of 8 scans, < 2 nm rms repeatability","dx":-12,"offset":-12},
  "resolve":{"axis":{"x":"independent","y":"independent"}},
  "layer":[
   {"data":{"name":"p2"},
    "mark":{"type":"line","strokeWidth":0.9},
    "encoding":{
     "x":{"field":"mm","type":"quantitative","scale":{"domain":[-800,800],"nice":false,"zero":false},
      "axis":{"orient":"bottom","values":[-800,-600,-400,-200,0,200,400,600,800],"labelExpr":"''+datum.value","tickSize":-4,"tickColor":"#333","labelFont":"Liberation Sans","labelFontSize":9,"labelColor":"#222","labelPadding":9,"title":null}},
     "y":{"field":"um","type":"quantitative","scale":{"domain":[-0.04,0.0381951],"nice":false,"zero":false},
      "axis":{"orient":"left","values":[-0.04,-0.03,-0.02,-0.01,0,0.01,0.02,0.03],"labelExpr":"''+datum.value","tickSize":-4,"tickColor":"#333","labelFont":"Liberation Sans","labelFontSize":9,"labelColor":"#222","labelPadding":6,
       "title":["Surface","measurement","in µm"],"titleFont":"Liberation Sans","titleFontSize":12,"titleFontWeight":"normal","titleColor":"#222","titleAngle":0,"titleX":-71.5,"titleY":82,"titleAlign":"center","titleBaseline":"middle","titleLineHeight":13.5}},
     "color":{"field":"s","type":"nominal","scale":{"domain":["cur","prev"],"range":["#ff0000","#000000"]},
      "legend":{"orient":"none","legendX":509,"legendY":409,"title":null,"symbolType":"M-1,0H4.6","symbolSize":100,"symbolStrokeWidth":1,"labelExpr":"datum.label=='cur'?'current data, rms=0.005um':'previous data, rms=0.006um'","labelFont":"Liberation Sans","labelFontSize":9,"labelColor":"#222","labelOffset":20,"labelLimit":300,"rowPadding":4,"padding":6,"strokeColor":"#000","fillColor":"#fff"}}
    }},
   {"data":{"name":"p2"},
    "mark":{"type":"line","opacity":0},
    "encoding":{
     "x":{"field":"mm","type":"quantitative","scale":{"domain":[-800,800],"nice":false,"zero":false},
      "axis":{"orient":"top","offset":-24,"values":[-800,-600,-400,-200,0,200,400,600,800],"labels":false,"title":null,"tickSize":-4,"tickColor":"#333"}},
     "y":{"field":"um","type":"quantitative","scale":{"domain":[-0.04,0.0381951],"nice":false,"zero":false},
      "axis":{"orient":"right","values":[-0.04,-0.03,-0.02,-0.01,0,0.01,0.02,0.03],"labels":false,"title":null,"tickSize":-4,"tickColor":"#333"}},
     "detail":{"field":"s"}
    }},
   {"data":{"name":"frame2"},
    "mark":{"type":"rect","fill":"transparent","stroke":"#333","strokeWidth":1.2},
    "encoding":{
     "x":{"field":"mm","type":"quantitative","scale":{"domain":[-800,800],"nice":false,"zero":false},"axis":null},
     "x2":{"field":"mm2"},
     "y":{"field":"um","type":"quantitative","scale":{"domain":[-0.04,0.0381951],"nice":false,"zero":false},"axis":null},
     "y2":{"field":"um2"}
    }},
   {"data":{"name":"box"},
    "mark":{"type":"rect","fill":"transparent","stroke":"#333","strokeWidth":1},
    "encoding":{
     "x":{"field":"mm","type":"quantitative","scale":{"domain":[-800,800],"nice":false,"zero":false},"axis":null},
     "x2":{"field":"mm2"},
     "y":{"field":"um","type":"quantitative","scale":{"domain":[-0.04,0.0381951],"nice":false,"zero":false},"axis":null},
     "y2":{"field":"um2"}
    }},
   {"data":{"name":"notes"},
    "transform":[{"filter":"datum.label=='A'"}],
    "mark":{"type":"text","font":"Liberation Sans","fontSize":10,"color":"#222","align":"center","baseline":"middle"},
    "encoding":{
     "x":{"field":"mm","type":"quantitative","scale":{"domain":[-800,800],"nice":false,"zero":false},"axis":null},
     "y":{"field":"um","type":"quantitative","scale":{"domain":[-0.04,0.0381951],"nice":false,"zero":false},"axis":null},
     "text":{"field":"label"}
    }},
   {"data":{"name":"notes"},
    "transform":[{"filter":"datum.label!='A'"}],
    "mark":{"type":"text","font":"Liberation Serif","fontSize":14.5,"color":"#111","align":"center","baseline":"middle"},
    "encoding":{
     "x":{"field":"mm","type":"quantitative","scale":{"domain":[-800,800],"nice":false,"zero":false},"axis":null},
     "y":{"field":"um","type":"quantitative","scale":{"domain":[-0.04,0.0381951],"nice":false,"zero":false},"axis":null},
     "text":{"field":"label"}
    }}
  ]},
 {"width":1,"height":1,"data":{"values":[{}]},"mark":{"type":"point","opacity":0,"size":0},"encoding":{}},
 {"width":353,"height":209,
  "view":{"stroke":"#8a8a8a","strokeWidth":1.2},
  "title":{"text":"Errors with even symmetry : 0.025 µm rms","fontSize":16,"fontWeight":"bold","dx":-12,"offset":8},
  "data":{"name":"p4"},
  "resolve":{"axis":{"x":"independent","y":"independent"}},
  "layer":[
   {"mark":{"type":"line","color":"#6262f8","strokeWidth":1.5,"interpolate":"monotone"},
    "encoding":{
     "x":{"field":"pos","type":"quantitative","scale":{"domain":[-1,1],"nice":false,"zero":false},
      "axis":{"orient":"bottom","values":[-1,-0.8,-0.6,-0.4,-0.2,0,0.2,0.4,0.6,0.8,1],"labelExpr":"''+datum.value","labelAlign":{"condition":{"test":"datum.value==1","value":"right"},"value":"center"},"tickSize":-3,"tickColor":"#888","labelFont":"DejaVu Sans","labelFontSize":9,"labelColor":"#777","labelPadding":6,
       "title":"Normalized position on mirror","titleFont":"Liberation Sans","titleFontSize":14.5,"titleFontWeight":"bold","titleColor":"#000","titleX":156,"titleY":30,"titleAlign":"center","titleBaseline":"middle"}},
     "y":{"field":"um","type":"quantitative","scale":{"domain":[-0.06,0.06],"nice":false,"zero":false},
      "axis":{"orient":"left","values":[-0.06,-0.04,-0.02,0,0.02,0.04,0.06],"labelExpr":"''+datum.value","tickSize":-3,"tickColor":"#888","labelFont":"DejaVu Sans","labelFontSize":9,"labelColor":"#777","labelPadding":6,"title":null}}
    }},
   {"mark":{"type":"line","opacity":0},
    "encoding":{
     "x":{"field":"pos","type":"quantitative","scale":{"domain":[-1,1],"nice":false,"zero":false},
      "axis":{"orient":"top","values":[-1,-0.8,-0.6,-0.4,-0.2,0,0.2,0.4,0.6,0.8,1],"labels":false,"title":null,"tickSize":-3,"tickColor":"#888"}},
     "y":{"field":"um","type":"quantitative","scale":{"domain":[-0.06,0.06],"nice":false,"zero":false},
      "axis":{"orient":"right","values":[-0.06,-0.04,-0.02,0,0.02,0.04,0.06],"labels":false,"title":null,"tickSize":-3,"tickColor":"#888"}}
    }}
  ]}
]
}
